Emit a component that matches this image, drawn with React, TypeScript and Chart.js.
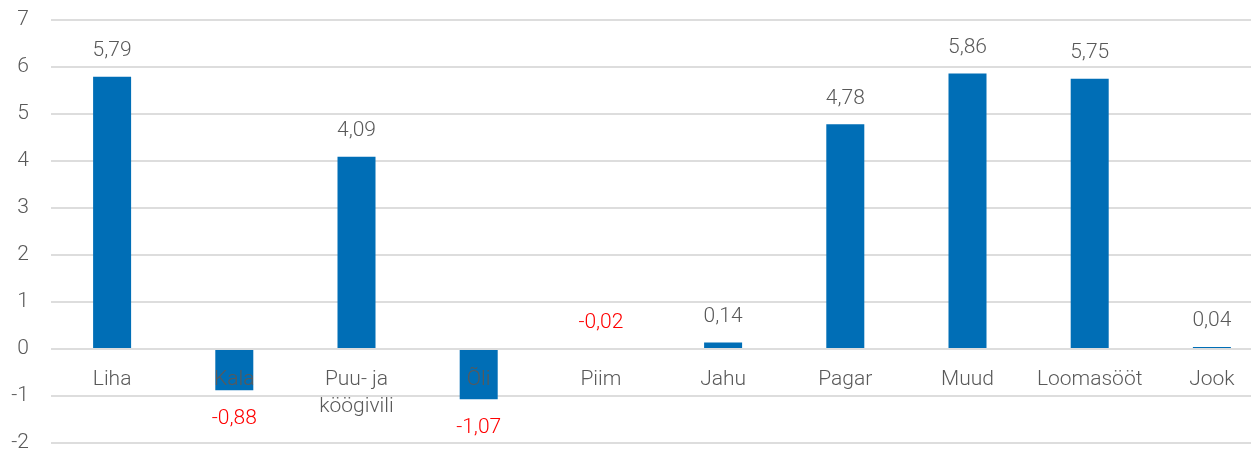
import React, { useEffect, useRef } from 'react';
import { Chart, registerables } from 'chart.js';

Chart.register(...registerables);

const categories: (string | string[])[] = [
  'Liha',
  'Kala',
  ['Puu- ja', 'köögivili'],
  'Õli',
  'Piim',
  'Jahu',
  'Pagar',
  'Muud',
  'Loomasööt',
  'Jook',
];
const values: number[] = [5.79, -0.88, 4.09, -1.07, -0.02, 0.14, 4.78, 5.86, 5.75, 0.04];
const yMin = -2;
const yMax = 7;
const yStep = 1;

const BAR_COLOR = '#006EB6';
const TEXT_GREY = '#595959';
const RED = '#FF0000';
const FONT_FAMILY = 'Roboto, "Noto Sans", sans-serif';
const FONT_SIZE = 21;

const fmt = (v: number) => v.toFixed(2).replace('.', ',');

const labelPlugin = {
  id: 'customLabels',
  afterDatasetsDraw(chart: any) {
    const ctx = chart.ctx;
    const y = chart.scales.y;
    const meta = chart.getDatasetMeta(0);
    const zeroY = y.getPixelForValue(0);
    ctx.save();
    ctx.font = `300 ${FONT_SIZE}px ${FONT_FAMILY}`;
    ctx.textAlign = 'center';
    ctx.textBaseline = 'middle';
    meta.data.forEach((bar: any, i: number) => {
      const v = values[i];
      const cx = bar.x;
      let ty: number;
      if (v >= 0 || Math.abs(v) < 0.1) {
        ty = Math.min(bar.y, zeroY) - 26;
      } else {
        ty = bar.y + 28;
      }
      ctx.fillStyle = v < 0 ? RED : TEXT_GREY;
      ctx.fillText(fmt(v), cx, ty);
      const cat = categories[i];
      const lines = Array.isArray(cat) ? cat : [cat];
      ctx.fillStyle = TEXT_GREY;
      lines.forEach((l, j) => ctx.fillText(l, cx, zeroY + 31 + j * 27));
    });
    ctx.restore();
  },
};

export default function App() {
  const canvasRef = useRef<HTMLCanvasElement | null>(null);

  useEffect(() => {
    if (!canvasRef.current) return;
    const chart = new Chart(canvasRef.current, {
      type: 'bar',
      data: {
        labels: categories,
        datasets: [
          {
            data: values,
            backgroundColor: BAR_COLOR,
            borderWidth: 0,
            barPercentage: 1,
            categoryPercentage: 0.311,
          },
        ],
      },
      options: {
        animation: false,
        responsive: true,
        maintainAspectRatio: false,
        layout: { padding: { top: 20, bottom: 9, left: 0, right: 0 } },
        plugins: {
          legend: { display: false },
          tooltip: { enabled: false },
        },
        scales: {
          x: {
            display: false,
          },
          y: {
            min: yMin,
            max: yMax,
            ticks: {
              stepSize: yStep,
              padding: 22,
              color: TEXT_GREY,
              font: { family: FONT_FAMILY, size: FONT_SIZE, weight: 300 as any, lineHeight: 0.8 },
            },
            grid: {
              color: '#DDDDDD',
              lineWidth: 2,
              drawTicks: false,
            },
            border: { display: false },
            afterFit: (scale: any) => {
              scale.width = 51;
              scale.paddingTop = 0;
              scale.paddingBottom = 0;
            },
          },
        },
      },
      plugins: [labelPlugin],
    });
    return () => chart.destroy();
  }, []);

  return (
    <div
      style={{
        position: 'fixed',
        left: 0,
        top: 0,
        width: 1251,
        height: 452,
        overflow: 'hidden',
        background: '#fff',
      }}
    >
      <div style={{ position: 'relative', width: 1273, height: 452 }}>
        <canvas ref={canvasRef} />
      </div>
    </div>
  );
}
